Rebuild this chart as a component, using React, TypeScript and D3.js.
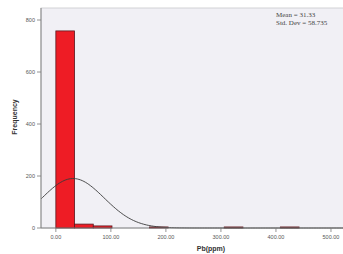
import React from "react";
import * as d3 from "d3";

// histogram of Pb (ppm), SPSS style
const binStarts = [0, 34, 68, 170, 306, 408];
const binCounts = [758, 15, 8, 4, 4, 4];
const binWidth = 34;
const xTicks = [0, 100, 200, 300, 400, 500];
const yTicks = [0, 200, 400, 600, 800];
const mean = 31.33;
const stdDev = 56.5;
const statLines = ["Mean = 31.33", "Std. Dev = 58.735"];

const W = 343;
const H = 254;

export default function App() {
  const x = d3.scaleLinear().domain([-27, 580]).range([41, 375]);
  const y = d3.scaleLinear().domain([0, 800]).range([228, 20]);
  const n = d3.sum(binCounts);

  const curvePts = d3.range(-27, 580, 3).map((v) => {
    const z = (v - mean) / stdDev;
    const f = (n * binWidth) / (stdDev * Math.sqrt(2 * Math.PI)) * Math.exp(-0.5 * z * z);
    return [v, f] as [number, number];
  });
  const line = d3
    .line<[number, number]>()
    .x((d) => x(d[0]))
    .y((d) => y(d[1]))
    .curve(d3.curveBasis);

  return (
    <div style={{ position: "absolute", left: 0, top: 0 }}>
      <svg width={W} height={H} style={{ display: "block", background: "#fff" }}>
        <rect x={41} y={8} width={340} height={220} fill="#f1f0f5" stroke="#c8c8cc" strokeWidth={0.8} />
        {binStarts.map((b, i) => (
          <rect
            key={i}
            x={x(b)}
            y={y(binCounts[i])}
            width={x(b + binWidth) - x(b)}
            height={y(0) - y(binCounts[i])}
            fill="#ee1c25"
            stroke="#5a1a20"
            strokeWidth={0.8}
          />
        ))}
        <path d={line(curvePts) || ""} fill="none" stroke="#3a3a3a" strokeWidth={0.9} />
        <line x1={41} x2={381} y1={228} y2={228} stroke="#7a7a7a" strokeWidth={0.9} />
        <line x1={41} x2={41} y1={8} y2={228} stroke="#7a7a7a" strokeWidth={0.9} />
        {yTicks.map((t) => (
          <g key={t}>
            <line x1={37} x2={41} y1={y(t)} y2={y(t)} stroke="#7a7a7a" strokeWidth={0.8} />
            <text x={35} y={y(t) + 2} fontSize={5.5} textAnchor="end" fill="#555" fontFamily="Liberation Sans">
              {t}
            </text>
          </g>
        ))}
        {xTicks.map((t) => (
          <g key={t}>
            <line x1={x(t)} x2={x(t)} y1={228} y2={232} stroke="#7a7a7a" strokeWidth={0.8} />
            <text x={x(t)} y={239} fontSize={5.5} textAnchor="middle" fill="#555" fontFamily="Liberation Sans">
              {t.toFixed(2)}
            </text>
          </g>
        ))}
        <text
          transform="translate(17,117) rotate(-90)"
          fontSize={7}
          fontWeight="bold"
          textAnchor="middle"
          fill="#333"
          fontFamily="Liberation Sans"
        >
          Frequency
        </text>
        <text x={211} y={251} fontSize={7} fontWeight="bold" textAnchor="middle" fill="#333" fontFamily="Liberation Sans">
          Pb(ppm)
        </text>
        {statLines.map((s, i) => (
          <text key={i} x={276} y={17 + i * 8} fontSize={7} fill="#444" fontFamily="Liberation Serif">
            {s}
          </text>
        ))}
      </svg>
    </div>
  );
}
